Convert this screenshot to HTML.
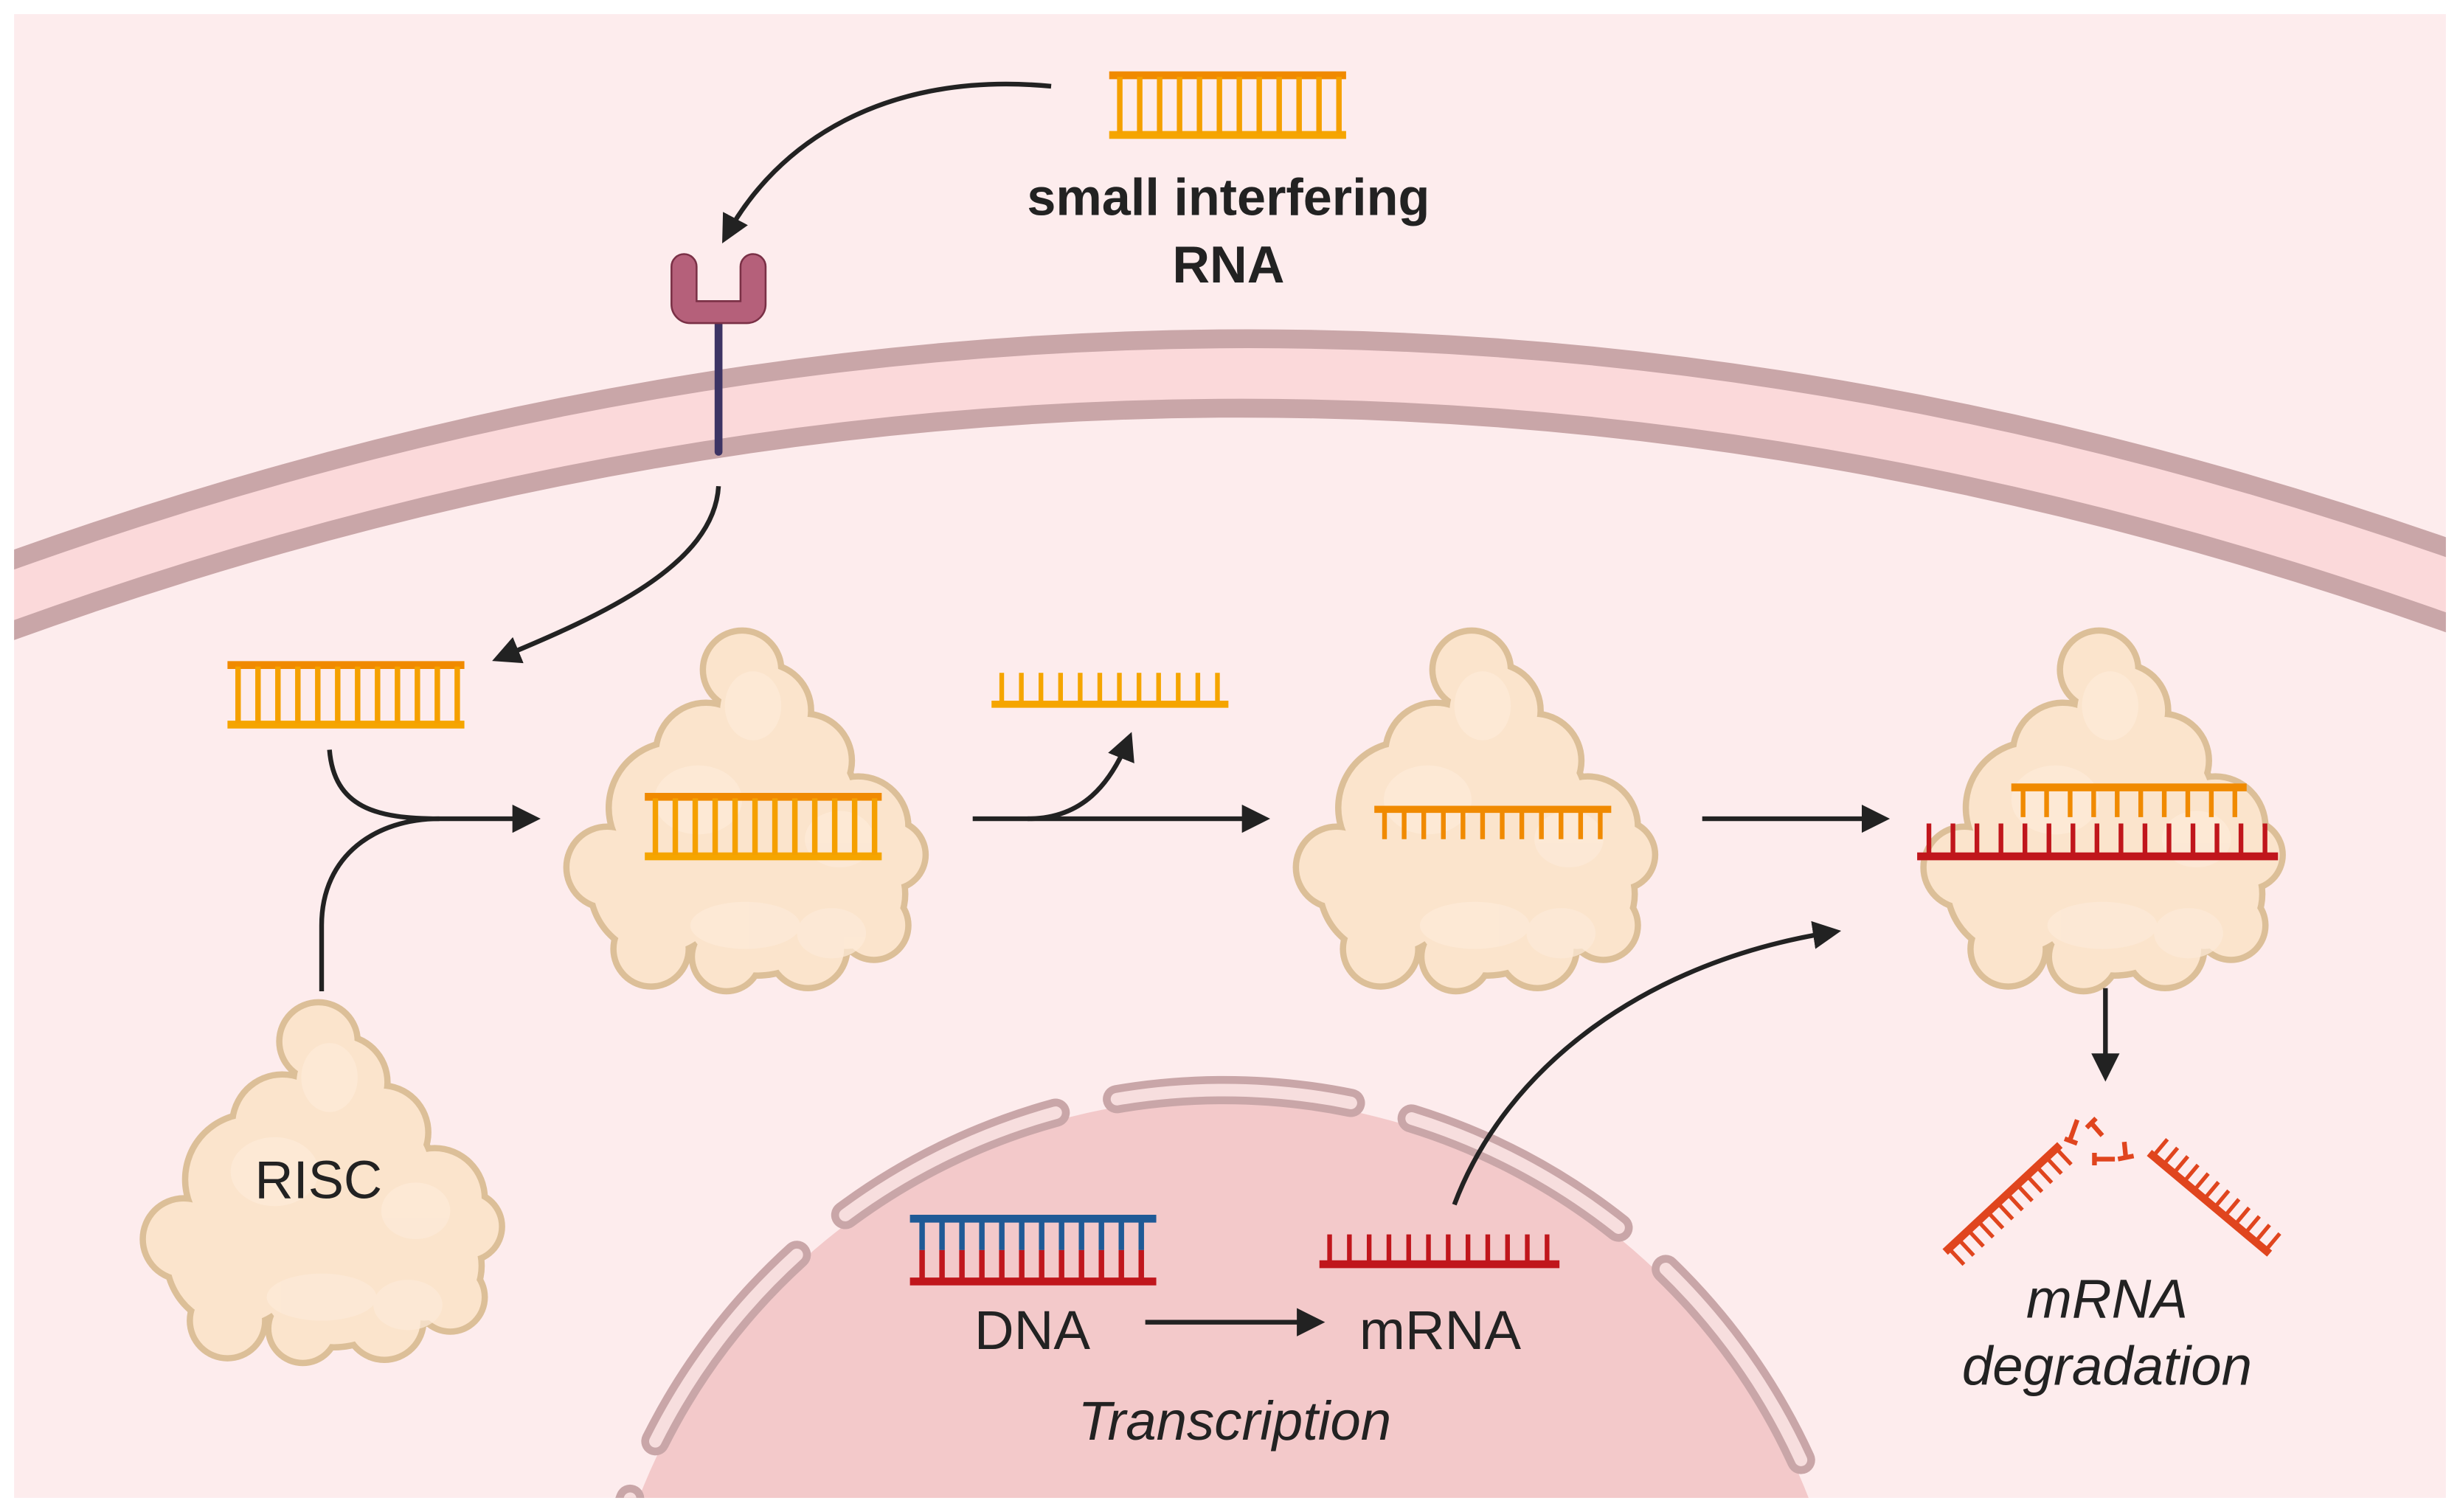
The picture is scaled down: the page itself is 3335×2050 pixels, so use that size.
<!DOCTYPE html>
<html><head><meta charset="utf-8"><style>
html,body{margin:0;padding:0;background:#fff;overflow:hidden;width:3335px;height:2050px}
svg{display:block}
text{font-family:"Liberation Sans",sans-serif;fill:#222}
</style></head><body>
<svg width="3335" height="2050" viewBox="0 0 1568 964" preserveAspectRatio="none" xmlns="http://www.w3.org/2000/svg">
<defs>
<marker id="ah" viewBox="0 0 10 10" refX="8" refY="5" markerWidth="6" markerHeight="6" orient="auto" markerUnits="strokeWidth">
<path d="M0,0 L10,5 L0,10 z" fill="#222"/></marker>
<g id="blob">
<g fill="#dcbf98">
<circle cx="-2" cy="-88" r="27"/><circle cx="12" cy="-62" r="32"/><circle cx="-25" cy="-35" r="34"/><circle cx="38" cy="-30" r="32"/>
<circle cx="-45" cy="0" r="44"/><circle cx="20" cy="0" r="54"/><circle cx="72" cy="12" r="34"/>
<circle cx="93" cy="30" r="24"/><circle cx="-88" cy="38" r="28"/><circle cx="-55" cy="50" r="46"/>
<circle cx="8" cy="55" r="54"/><circle cx="65" cy="55" r="39"/><circle cx="-60" cy="90" r="26"/>
<circle cx="-12" cy="95" r="24"/><circle cx="40" cy="90" r="27"/><circle cx="82" cy="75" r="24"/>
</g>
<g fill="#fbe4cc">
<circle cx="-2" cy="-88" r="23"/><circle cx="12" cy="-62" r="28"/><circle cx="-25" cy="-35" r="30"/><circle cx="38" cy="-30" r="28"/>
<circle cx="-45" cy="0" r="40"/><circle cx="20" cy="0" r="50"/><circle cx="72" cy="12" r="30"/>
<circle cx="93" cy="30" r="20"/><circle cx="-88" cy="38" r="24"/><circle cx="-55" cy="50" r="42"/>
<circle cx="8" cy="55" r="50"/><circle cx="65" cy="55" r="35"/><circle cx="-60" cy="90" r="22"/>
<circle cx="-12" cy="95" r="20"/><circle cx="40" cy="90" r="23"/><circle cx="82" cy="75" r="20"/>
</g>
<g fill="#fdebd9" opacity="0.7">
<ellipse cx="5" cy="-65" rx="18" ry="22"/><ellipse cx="-30" cy="-5" rx="28" ry="22"/>
<ellipse cx="60" cy="20" rx="22" ry="18"/><ellipse cx="0" cy="75" rx="35" ry="15"/>
<ellipse cx="55" cy="80" rx="22" ry="16"/>
</g>
</g>
</defs>
<rect width="1568" height="964" fill="#fff"/>
<rect x="9" y="9" width="1550" height="946" fill="#fdeced"/>
<clipPath id="cl"><rect x="9" y="9" width="1550" height="946"/></clipPath>
<g clip-path="url(#cl)">
<circle cx="780" cy="1100" r="400" fill="#f3c9ca"/>
<circle cx="780" cy="1100" r="405" fill="none" stroke="#c9a6a8" stroke-width="18" stroke-dasharray="150 40" stroke-dashoffset="60" stroke-linecap="round"/>
<circle cx="780" cy="1100" r="405" fill="none" stroke="#f7dede" stroke-width="8" stroke-dasharray="150 40" stroke-dashoffset="60" stroke-linecap="round"/>
<path d="M0,382 Q785,97 1568,376" fill="none" stroke="#fbd9da" stroke-width="44"/>
<path d="M0,360 Q785,76 1568,352" fill="none" stroke="#c9a6a8" stroke-width="12"/>
<path d="M0,405 Q785,118 1568,400" fill="none" stroke="#c9a6a8" stroke-width="12"/>
</g>
<line x1="458" y1="205" x2="458" y2="288" stroke="#3d3464" stroke-width="5" stroke-linecap="round"/>
<path d="M428,170 a8,8 0 0 1 16,0 v22 h28 v-22 a8,8 0 0 1 16,0 v24 a12,12 0 0 1 -12,12 h-36 a12,12 0 0 1 -12,-12 z" fill="#b5607a" stroke="#7a3046" stroke-width="1.2"/>
<use href="#blob" transform="translate(205,752)"/>
<use href="#blob" transform="translate(475,515)"/>
<use href="#blob" transform="translate(940,515)"/>
<use href="#blob" transform="translate(1340,515)"/>
<g id="dup">
<line x1="707" y1="48" x2="858" y2="48" stroke="#f08a00" stroke-width="5"/>
<line x1="707" y1="86" x2="858" y2="86" stroke="#f5a500" stroke-width="5"/>
<line x1="712" y1="67" x2="858" y2="67" stroke="#f5a000" stroke-width="36" stroke-dasharray="3.5 9.2"/>
</g>
<use href="#dup" transform="translate(-562,376)"/>
<use href="#dup" transform="translate(-296,460)"/>
<line x1="632" y1="449" x2="783" y2="449" stroke="#f5a500" stroke-width="4.5"/>
<line x1="637" y1="438" x2="783" y2="438" stroke="#f5a500" stroke-width="18" stroke-dasharray="3 9.5"/>
<line x1="876" y1="516" x2="1027" y2="516" stroke="#f08a00" stroke-width="4.5"/>
<line x1="881" y1="526" x2="1027" y2="526" stroke="#f08a00" stroke-width="18" stroke-dasharray="3 9.5"/>
<line x1="1282" y1="502" x2="1432" y2="502" stroke="#f08a00" stroke-width="5"/>
<line x1="1288" y1="512" x2="1432" y2="512" stroke="#f08a00" stroke-width="18" stroke-dasharray="3 12"/>
<line x1="1222" y1="546" x2="1452" y2="546" stroke="#c0161c" stroke-width="5"/>
<line x1="1228" y1="535" x2="1452" y2="535" stroke="#c0161c" stroke-width="20" stroke-dasharray="3 12.3"/>
<line x1="580" y1="777" x2="737" y2="777" stroke="#1f5a96" stroke-width="5"/>
<line x1="586" y1="788" x2="737" y2="788" stroke="#1f5a96" stroke-width="18" stroke-dasharray="3.5 9.2"/>
<line x1="586" y1="806" x2="737" y2="806" stroke="#c0161c" stroke-width="18" stroke-dasharray="3.5 9.2"/>
<line x1="580" y1="817" x2="737" y2="817" stroke="#c0161c" stroke-width="5"/>
<line x1="841" y1="806" x2="994" y2="806" stroke="#c0161c" stroke-width="5"/>
<line x1="846" y1="796" x2="994" y2="796" stroke="#c0161c" stroke-width="18" stroke-dasharray="3 9.6"/>
<g stroke="#e0451e" fill="none">
<g transform="translate(1313,730) rotate(137)">
<line x1="0" y1="0" x2="100" y2="0" stroke-width="5"/>
<line x1="2" y1="-7" x2="100" y2="-7" stroke-width="14" stroke-dasharray="2.5 6"/>
</g>
<g transform="translate(1370,735) rotate(40)">
<line x1="0" y1="0" x2="100" y2="0" stroke-width="5"/>
<line x1="2" y1="-7" x2="100" y2="-7" stroke-width="14" stroke-dasharray="2.5 6"/>
</g>
<path d="M1319,728 l5,-14 M1316,726 l8,3" stroke-width="3"/>
<path d="M1340,724 l-7,-8 M1330,719 l6,-6" stroke-width="3"/>
<path d="M1354,728 l1,10 M1350,739 l10,-2" stroke-width="3"/>
<path d="M1335,739 l13,0 M1335,735 l0,8" stroke-width="3"/>
</g>
<g fill="none" stroke="#222" stroke-width="3">
<path d="M670,55 C565,45 495,90 462,152" marker-end="url(#ah)"/>
<path d="M458,310 C455,360 385,392 317,420" marker-end="url(#ah)"/>
<path d="M210,478 C213,515 240,522 280,522 L341,522" marker-end="url(#ah)"/>
<path d="M205,632 L205,590 C205,545 240,522 280,522"/>
<path d="M620,522 L806,522" marker-end="url(#ah)"/>
<path d="M655,522 C690,522 708,500 720,470" marker-end="url(#ah)"/>
<path d="M1085,522 L1201,522" marker-end="url(#ah)"/>
<path d="M927,768 C960,680 1050,612 1170,594" marker-end="url(#ah)"/>
<path d="M1342,630 L1342,686" marker-end="url(#ah)"/>
<path d="M730,843 L841,843" marker-end="url(#ah)"/>
</g>
<text x="783" y="137" font-size="33" font-weight="bold" text-anchor="middle">small interfering</text>
<text x="783" y="180" font-size="33" font-weight="bold" text-anchor="middle">RNA</text>
<text x="203" y="764" font-size="34" text-anchor="middle">RISC</text>
<text x="658" y="860" font-size="35" text-anchor="middle">DNA</text>
<text x="918" y="860" font-size="35" text-anchor="middle">mRNA</text>
<text x="787" y="918" font-size="35" font-style="italic" text-anchor="middle">Transcription</text>
<text x="1343" y="840" font-size="35" font-style="italic" text-anchor="middle">mRNA</text>
<text x="1343" y="883" font-size="35" font-style="italic" text-anchor="middle">degradation</text>
</svg>
</body></html>
